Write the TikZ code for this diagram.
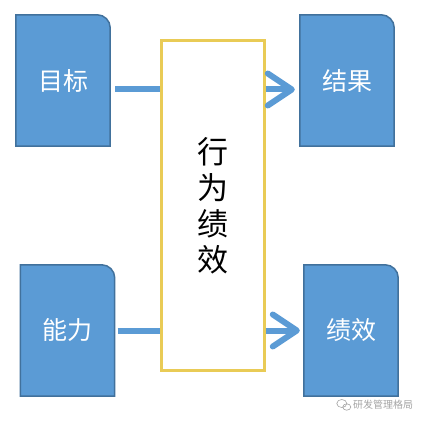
\documentclass[tikz,border=0pt]{standalone}
\usepackage{fontspec}
\setmainfont{Noto Sans CJK SC}
\usetikzlibrary{arrows.meta, positioning, backgrounds}
\definecolor{boxblue}{RGB}{91,155,213}
\definecolor{boxedge}{RGB}{65,113,156}
\definecolor{framegold}{RGB}{233,203,86}
\definecolor{markgray}{RGB}{165,165,165}

\begin{document}
\begin{tikzpicture}[
    x=1pt, y=1pt,
    card/.style={minimum width=94pt, minimum height=131pt, inner sep=0pt, text=white, font=\fontsize{25}{30}\selectfont},
    frame/.style={draw=framegold, line width=3pt, fill=white, minimum width=103pt, minimum height=329pt, inner sep=0pt, align=center, font=\fontsize{31}{36}\selectfont},
    link/.style={draw=boxblue, line width=6pt},
    arrow/.style={link, -{Straight Barb[length=24pt, width=32pt, round]}},
    marktext/.style={font=\fontsize{10}{12}\selectfont, text=markgray, inner sep=0pt}
]
    \useasboundingbox (0,0) rectangle (426,-425);

    \node (act) [frame] at (212.5,-205.5) {行\\为\\绩\\效};

    \node (goal) [card] at (63,-80.5) {目标};
    \node (res) [card] at (347,-80.5) {结果};
    \node (abil) [card] at (67.5,-330.5) {能力};
    \node (perf) [card] at (351,-330.5) {绩效};

    % cards: only the top right corner is rounded
    \begin{scope}[on background layer]
        \fill[white] (0,0) rectangle (426,-425);
        \foreach \c in {goal, res, abil, perf}
            \draw[fill=boxblue, draw=boxedge, line width=1.5pt]
                (\c.south west) -- (\c.north west) [rounded corners=13pt] -- (\c.north east) [sharp corners] -- (\c.south east) -- cycle;
    \end{scope}

    \draw[link] ([shift={(5pt,-9pt)}]goal.east) -- ([yshift=-9pt]act.west |- goal.east);
    \draw[arrow] ([yshift=-9pt]act.east |- res.west) -- ([shift={(-5pt,-9pt)}]res.west);
    \draw[link] ([xshift=3pt]abil.east) -- (act.west |- abil.east);
    \draw[arrow] (act.east |- perf.west) -- ([xshift=-4pt]perf.west);

    % watermark
    \node (mark) [marktext] at (383,-405) {研发管理格局};
    \coordinate [left=9pt of mark.west] (logo);
    \draw[markgray, line width=0.6pt] ([shift={(-2pt,1.5pt)}]logo) ellipse (5pt and 4pt);
    \draw[markgray, line width=0.6pt] ([shift={(3pt,-2pt)}]logo) ellipse (4pt and 3.2pt);
\end{tikzpicture}
\end{document}
